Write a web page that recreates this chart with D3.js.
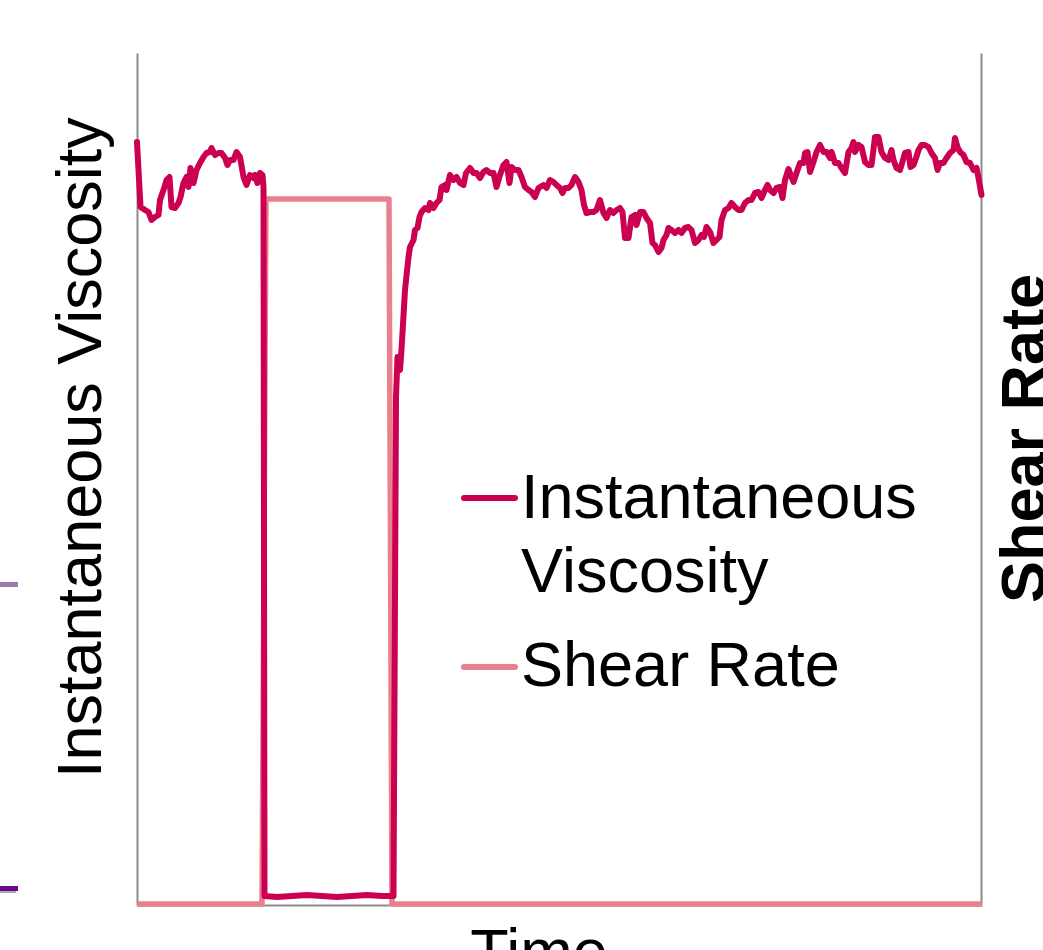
<!DOCTYPE html>
<html>
<head>
<meta charset="utf-8">
<script src="https://d3js.org/d3.v7.min.js"></script>
<style>
  html, body { margin: 0; padding: 0; background: #ffffff; overflow: hidden; }
  svg { display: block; font-family: "Liberation Sans", Arial, sans-serif; }
</style>
</head>
<body>
<svg id="chart" width="1043" height="950"></svg>
<script>
// ---- data (time in s, viscosity in arbitrary units, shear rate in 1/s) ----
const viscTime = [0, 0.7, 1.6, 2.3, 2.9, 3.6, 4.3, 4.6, 5.3, 5.9, 6.5, 6.9, 7.6, 8.3, 8.7, 9.3, 9.9, 10.3, 10.7, 11.3, 11.9, 12.6, 13.3, 13.9, 14.6, 14.9, 15.6, 16.3, 16.9, 17.6, 18.1, 18.6, 19.3, 19.9, 20.6, 21.3, 21.9, 22.6, 23.3, 23.6, 24.1, 24.6, 25.1, 25.3,
  25.5, 28, 31, 34, 37, 40, 43, 46, 49, 51.1,
  51.3, 51.8, 52.1, 52.6, 52.9, 53.6, 54.3, 54.6, 55.3, 55.6, 56.1, 56.5, 56.9, 57.6, 58.3, 58.6, 59.3, 59.9, 60.5, 60.9, 61.6, 61.9, 62.6, 63.3, 63.9, 64.6, 65.3, 65.8, 66.6, 67.3, 67.9, 68.6, 69.3, 69.9, 70.6, 71.3, 71.9, 72.6, 73.3, 73.9, 74.5, 74.9, 75.6, 76.3, 76.9, 77.6, 78.3, 78.9, 79.6, 80.3, 81.3, 81.9, 82.6, 83.3, 83.9, 84.6, 85.1, 85.6, 86.3, 86.9, 87.6, 88.3, 88.9, 89.4, 89.9, 90.6, 91.3, 91.9, 92.6, 93.3, 93.9, 94.6, 95.3, 95.9, 96.6, 97.1, 97.6, 98.3, 98.9, 99.6, 99.9, 100.6, 101.3, 101.9, 102.6, 103.1, 103.6, 104.3, 104.9, 105.3, 105.9, 106.3, 106.9, 107.6, 108.3, 108.9, 109.6, 110.3, 110.9, 111.6, 112.3, 112.9, 113.4, 113.9, 114.6, 115.3, 115.9, 116.5, 116.9, 117.6, 118.3, 118.9, 119.6, 120.3, 120.9, 121.6, 122.3, 122.9, 123.6, 124.3, 124.9, 125.6, 126.1, 126.6, 127.3, 127.9, 128.6, 129.1, 129.6, 130.3, 130.9, 131.3, 131.9, 132.6, 133.3, 133.6, 134.1, 134.6, 135.3, 135.9, 136.6, 137.3, 137.9, 138.6, 138.9, 139.6, 140.3, 140.9, 141.6, 142.3, 142.9, 143.3, 143.6, 144.3, 144.9, 145.6, 146.3, 146.9, 147.6, 148.3, 148.9, 149.6, 150.3, 150.9, 151.3, 151.9, 152.6, 152.9, 153.6, 154.3, 154.7, 155.3, 155.8, 156.3, 156.9, 157.6, 158.3, 158.9, 159.6, 160.1, 160.6, 161.3, 161.9, 162.6, 163.3, 163.6, 164.1, 164.6, 165.3, 165.9, 166.6, 167.3, 167.9, 168.3, 168.9];

const viscosity = [76.3, 69.8, 69.5, 69.3, 68.5, 68.8, 69.0, 70.5, 71.5, 72.5, 72.8, 69.8, 69.7, 70.2, 70.8, 72.2, 72.8, 71.8, 73.7, 72.2, 73.5, 74.2, 74.8, 75.2, 75.3, 75.7, 75.0, 75.2, 75.2, 74.7, 74.0, 74.5, 74.5, 75.3, 74.8, 72.8, 72.0, 73.0, 72.7, 73.0, 72.2, 73.2, 73.0, 71.8,
  0.9, 0.8, 0.9, 1.0, 0.9, 0.8, 0.9, 1.0, 0.9, 0.9,
  0.9, 50.8, 54.8, 53.5, 55.5, 61.5, 64.8, 65.8, 66.5, 67.5, 67.7, 68.8, 69.3, 69.7, 69.5, 70.2, 69.7, 70.2, 70.5, 71.8, 72.0, 71.5, 73.0, 72.5, 72.8, 72.2, 72.0, 73.2, 73.7, 73.2, 73.2, 72.7, 73.3, 73.5, 73.2, 73.2, 71.8, 73.0, 74.0, 74.3, 72.2, 73.8, 73.5, 73.5, 72.8, 71.8, 71.5, 71.3, 70.8, 71.7, 72.0, 71.7, 72.5, 72.3, 72.0, 71.7, 71.2, 71.7, 71.7, 72.0, 72.8, 72.3, 71.5, 70.0, 69.2, 69.3, 69.3, 69.5, 70.5, 69.2, 68.7, 69.5, 69.2, 69.5, 69.7, 69.3, 66.7, 66.7, 68.8, 69.0, 68.0, 69.3, 69.3, 68.7, 68.2, 66.2, 66.0, 65.3, 65.7, 66.5, 67.0, 67.7, 67.5, 67.2, 67.5, 67.2, 67.7, 67.8, 67.5, 66.2, 66.5, 67.0, 66.8, 67.8, 67.3, 66.2, 66.5, 66.8, 68.5, 69.5, 69.7, 70.2, 69.8, 69.5, 69.5, 70.2, 70.5, 70.5, 71.2, 71.3, 70.7, 71.5, 72.0, 71.5, 71.2, 71.7, 71.8, 70.7, 72.5, 73.6, 72.8, 72.3, 73.2, 74.2, 74.2, 75.2, 75.3, 73.3, 74.3, 75.3, 76.0, 75.3, 75.3, 74.7, 75.3, 74.2, 74.2, 73.7, 73.2, 75.3, 75.7, 76.3, 75.3, 76.0, 75.8, 74.3, 74.0, 74.0, 76.8, 76.8, 75.3, 74.7, 74.5, 75.5, 74.5, 73.7, 73.5, 74.0, 75.2, 75.3, 73.8, 74.0, 74.7, 75.5, 76.0, 76.0, 75.8, 75.2, 74.7, 73.5, 74.2, 74.2, 74.7, 75.2, 75.5, 76.7, 75.8, 75.3, 75.0, 74.3, 74.2, 73.5, 73.7, 72.7, 71.0];

const shearTime = [0, 25.0, 25.8, 50.4, 51.0, 169];
const shearRate = [0, 0, 100, 100, 0, 0];

const legendLabels = [["Instantaneous", "Viscosity"], ["Shear Rate"]];
const yTitle = "Instantaneous Viscosity";
const y2Title = "Shear Rate";
const xTitle = "Time";

// ---- layout ----
const svg = d3.select("#chart");
const plotLeft = 137, plotRight = 982, plotTop = 53, plotBottom = 905;
const viscColor = "#cc0050";
const shearColor = "#e8808f";
const axisColor = "#8c8c8c";
const fs = 63;

const x = d3.scaleLinear().domain([0, 169]).range([plotLeft, plotRight]);
const yV = d3.scaleLinear().domain([0, 85.2]).range([plotBottom, plotTop]);
const yS = d3.scaleLinear().domain([0, 120.7]).range([plotBottom - 1, plotTop]);

// fragments of a neighbouring chart at the left edge
svg.append("line").attr("x1", 0).attr("x2", 18).attr("y1", 584.5).attr("y2", 584.5)
  .attr("stroke", "#9b7cb3").attr("stroke-width", 5);
svg.append("line").attr("x1", 0).attr("x2", 16).attr("y1", 892).attr("y2", 892)
  .attr("stroke", "#aaaaaa").attr("stroke-width", 2);
svg.append("line").attr("x1", 0).attr("x2", 18).attr("y1", 888.5).attr("y2", 888.5)
  .attr("stroke", "#6a0a88").attr("stroke-width", 5);

// axes (plain lines, no ticks)
const axisL = d3.axisLeft(yV).tickValues([]).tickSizeOuter(0);
const axisR = d3.axisRight(yS).tickValues([]).tickSizeOuter(0);
const axisB = d3.axisBottom(x).tickValues([]).tickSizeOuter(0);
const gL = svg.append("g").attr("transform", `translate(${plotLeft},0)`).call(axisL);
const gR = svg.append("g").attr("transform", `translate(${plotRight - 1},0)`).call(axisR);
const gB = svg.append("g").attr("transform", `translate(0,${plotBottom})`).call(axisB);
[gL, gR, gB].forEach(g => g.select(".domain").attr("stroke", axisColor).attr("stroke-width", 2));

// series
const n = Math.min(viscTime.length, viscosity.length);
const shearData = shearTime.map((t, i) => ({ t, v: shearRate[i] }));
const viscData = viscTime.slice(0, n).map((t, i) => ({ t, v: viscosity[i] }));

svg.append("path").datum(shearData)
  .attr("fill", "none").attr("stroke", shearColor).attr("stroke-width", 5.5)
  .attr("stroke-linejoin", "round")
  .attr("d", d3.line().x(d => x(d.t)).y(d => yS(d.v)));

svg.append("path").datum(viscData)
  .attr("fill", "none").attr("stroke", viscColor).attr("stroke-width", 6)
  .attr("stroke-linejoin", "round").attr("stroke-linecap", "round")
  .attr("d", d3.line().x(d => x(d.t)).y(d => yV(d.v)));

// axis titles
svg.append("text").attr("transform", "translate(101,778) rotate(-90)")
  .attr("font-size", fs).attr("fill", "#000").text(yTitle);
svg.append("text").attr("transform", "translate(1045,603) rotate(-90)")
  .attr("font-size", fs).attr("font-weight", "bold").attr("fill", "#000").text(y2Title);
svg.append("text").attr("x", 539).attr("y", 973).attr("text-anchor", "middle")
  .attr("font-size", fs).attr("fill", "#000").text(xTitle);

// legend
const legend = svg.append("g");
const legItems = [
  { color: viscColor, lineY: 498, baseY: [518, 592], labels: legendLabels[0] },
  { color: shearColor, lineY: 667, baseY: [686], labels: legendLabels[1] }
];
legItems.forEach(it => {
  legend.append("line").attr("x1", 464).attr("x2", 515).attr("y1", it.lineY).attr("y2", it.lineY)
    .attr("stroke", it.color).attr("stroke-width", 6).attr("stroke-linecap", "round");
  it.labels.forEach((lab, j) => {
    legend.append("text").attr("x", 521).attr("y", it.baseY[j])
      .attr("font-size", fs).attr("fill", "#000").text(lab);
  });
});
</script>
</body>
</html>
